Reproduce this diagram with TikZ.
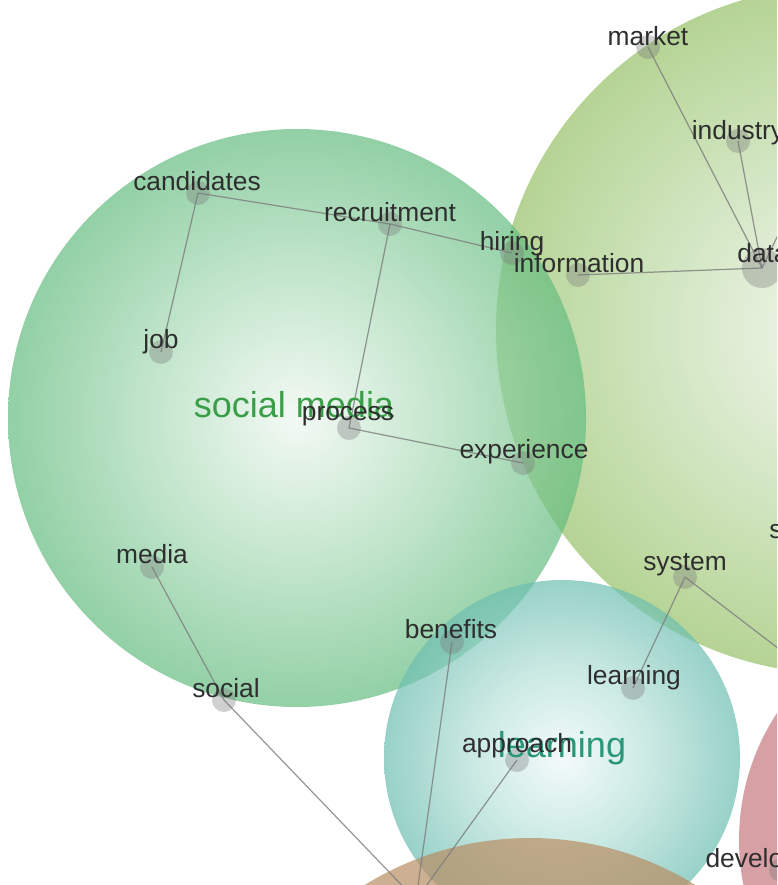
\documentclass[tikz,border=0pt]{standalone}
\usepackage{fontspec}
\setmainfont{Liberation Sans}
\usetikzlibrary{backgrounds}
\usepackage{xcolor}
\definecolor{socialout}{RGB}{100,188,128}
\definecolor{socialmid}{RGB}{170,219,183}
\definecolor{socialin}{RGB}{238,247,240}
\definecolor{dataout}{RGB}{150,193,102}
\definecolor{datamid}{RGB}{192,220,170}
\definecolor{datain}{RGB}{238,243,230}
\definecolor{learnout}{RGB}{108,190,177}
\definecolor{learnmid}{RGB}{180,224,215}
\definecolor{learnin}{RGB}{238,249,247}
\definecolor{devout}{RGB}{198,119,127}
\definecolor{bottomout}{RGB}{184,141,98}
\definecolor{socialtext}{RGB}{58,158,72}
\definecolor{learntext}{RGB}{42,150,122}
\definecolor{dotgray}{RGB}{120,120,120}
\definecolor{linkgray}{RGB}{125,125,125}

% cluster glows, light in the middle (the path edge sits at 25bp)
\pgfdeclareradialshading{socialglow}{\pgfpoint{0bp}{0bp}}{color(0bp)=(socialin); color(12.5bp)=(socialmid); color(25bp)=(socialout); color(50bp)=(socialout)}
\pgfdeclareradialshading{dataglow}{\pgfpoint{0bp}{0bp}}{color(0bp)=(datain); color(12.5bp)=(datamid); color(25bp)=(dataout); color(50bp)=(dataout)}
\pgfdeclareradialshading{learnglow}{\pgfpoint{0bp}{0bp}}{color(0bp)=(learnin); color(12.5bp)=(learnmid); color(25bp)=(learnout); color(50bp)=(learnout)}

\newcommand\wordfont{\fontsize{15}{18}\selectfont}
\newcommand\topicfont{\fontsize{20.5}{24}\selectfont}

\begin{document}
\begin{tikzpicture}[x=0.02cm, y=-0.02cm,
    dot/.style={circle, fill=dotgray, fill opacity=0.35, draw=none, minimum size=0.48cm, inner sep=0pt},
    bigdot/.style={dot, minimum size=0.8cm},
    word/.style={font=\wordfont, text=black!82, anchor=base, inner sep=0pt},
    topic/.style={font=\topicfont, anchor=base, inner sep=0pt},
    link/.style={draw=linkgray, line width=0.7pt, draw opacity=0.8},
  ]
  \useasboundingbox (0,0) rectangle (777,885);

  % clusters
  \begin{scope}[on background layer]
    \clip (0,0) rectangle (777,885);
    \shade[shading=dataglow, opacity=0.7] (840,330) circle [radius=344];
    \shade[shading=socialglow, opacity=0.7] (297,418) circle [radius=289];
    \shade[shading=learnglow, opacity=0.7] (562,758) circle [radius=178];
    \fill[devout, opacity=0.7] (970,840) circle [radius=231];
    \fill[bottomout, opacity=0.7] (530,1152) circle [radius=314];
  \end{scope}

  \clip (0,0) rectangle (777,885);

  % term dots
  \node[dot] (market) at (648,47) {};
  \node[dot] (industry) at (738,141) {};
  \node[bigdot] (data) at (762,268) {};
  \node[dot] (candidates) at (198,193) {};
  \node[dot] (recruitment) at (390,224) {};
  \node[dot] (hiring) at (512,253) {};
  \node[dot] (information) at (578,275) {};
  \node[dot] (job) at (161,352) {};
  \node[dot] (process) at (349,428) {};
  \node[dot] (experience) at (523,463) {};
  \node[dot] (media) at (152,567) {};
  \node[dot] (system) at (685,577) {};
  \node[dot] (benefits) at (452,642) {};
  \node[dot] (social) at (224,700) {};
  \node[dot] (learning) at (633,688) {};
  \node[dot] (approach) at (517,760) {};
  \node[dot] (development) at (781,870) {};
  \node[dot] (lower) at (416,900) {};
  \coordinate (offne) at (800,190);
  \coordinate (offse) at (800,665);

  % term labels
  \node[word] (market-t) at (648,46) {market};
  \node[word] (industry-t) at (738,140) {industry};
  \node[word] (data-t) at (763,262) {data};
  \node[word] (candidates-t) at (197,191) {candidates};
  \node[word] (recruitment-t) at (390,221) {recruitment};
  \node[word] (hiring-t) at (512,250) {hiring};
  \node[word] (information-t) at (579,272) {information};
  \node[word] (job-t) at (161,348) {job};
  \node[word] (experience-t) at (524,458) {experience};
  \node[word] (media-t) at (152,563) {media};
  \node[word] (system-t) at (685,570) {system};
  \node[word] (benefits-t) at (451,638) {benefits};
  \node[word] (social-t) at (226,697) {social};
  \node[word] (learning-t) at (634,684) {learning};
  \node[word] (development-t) at (781,867) {development};
  \node[word, anchor=base west] (s-t) at (769,538) {s};

  % cluster titles
  \node[topic, text=socialtext] (socialmedia-topic) at (294,417) {social media};
  \node[topic, text=learntext] (learning-topic) at (562,757) {learning};
  \node[word] (process-t) at (348,420) {process};
  \node[word] (approach-t) at (517,752) {approach};

  % links
  \begin{scope}[on background layer]
    \draw[link] (market.center) -- (data.center);
    \draw[link] (industry.center) -- (data.center);
    \draw[link] (data.center) -- (offne);
    \draw[link] (information.center) -- (data.center);
    \draw[link] (candidates.center) -- (recruitment.center);
    \draw[link] (candidates.center) -- (job.center);
    \draw[link] (recruitment.center) -- (hiring.center);
    \draw[link] (recruitment.center) -- (process.center);
    \draw[link] (process.center) -- (experience.center);
    \draw[link] (media.center) -- (social.center);
    \draw[link] (social.center) -- (lower.center);
    \draw[link] (benefits.center) -- (lower.center);
    \draw[link] (approach.center) -- (lower.center);
    \draw[link] (system.center) -- (learning.center);
    \draw[link] (system.center) -- (offse);
  \end{scope}
\end{tikzpicture}
\end{document}
